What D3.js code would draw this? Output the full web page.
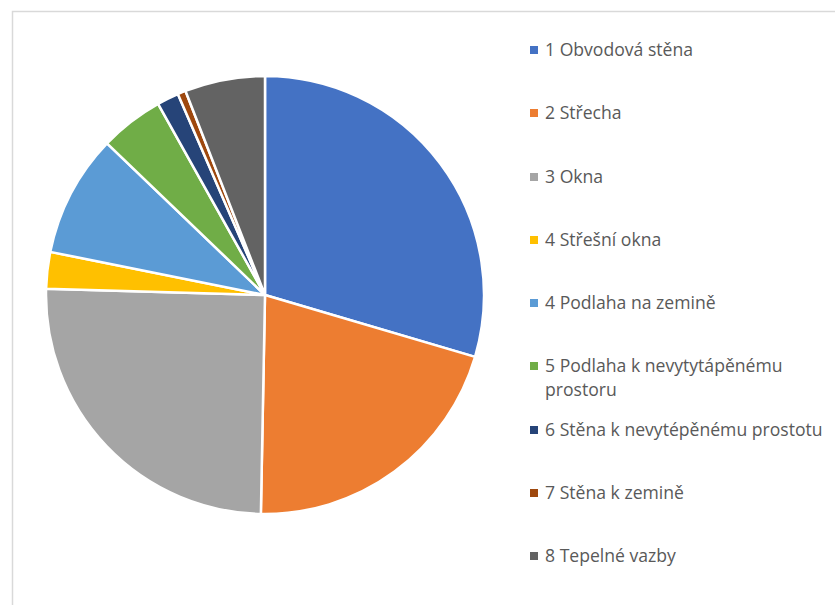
<!DOCTYPE html>
<html><head><meta charset="utf-8">
<script src="https://cdn.jsdelivr.net/npm/d3@7"></script>
<style>html,body{margin:0;padding:0;background:#fff;}svg{display:block;}</style>
</head><body>
<svg id="c" width="835" height="605"></svg>
<script>
const categories = ["1 Obvodová stěna","2 Střecha","3 Okna","4 Střešní okna","4 Podlaha na zemině","5 Podlaha k nevytytápěnému prostoru","6 Stěna k nevytépěnému prostotu","7 Stěna k zemině","8 Tepelné vazby"];
const values = [29.5, 20.7, 25.1, 2.7, 9.0, 4.7, 1.6, 0.6, 5.9];
const colors = ["#4472C4","#ED7D31","#A5A5A5","#FFC000","#5B9BD5","#70AD47","#264478","#9E480E","#636363"];
const legendLines = [["1 Obvodová stěna"],["2 Střecha"],["3 Okna"],["4 Střešní okna"],["4 Podlaha na zemině"],["5 Podlaha k nevytytápěnému","prostoru"],["6 Stěna k nevytépěnému prostotu"],["7 Stěna k zemině"],["8 Tepelné vazby"]];

const svg = d3.select("#c");
svg.append("path").attr("d","M12.5,605 V11.5 H835").attr("fill","none").attr("stroke","#d9d9d9").attr("stroke-width",1.5);

const cx = 265, cy = 295, r = 219;
const pie = d3.pie().sort(null).value(d => d);
const arc = d3.arc().innerRadius(0).outerRadius(r);
const color = d3.scaleOrdinal().domain(categories).range(colors);
svg.append("g").attr("transform",`translate(${cx},${cy})`)
  .selectAll("path").data(pie(values)).join("path")
  .attr("d", arc).attr("fill",(d,i)=>color(categories[i]))
  .attr("stroke","#fff").attr("stroke-width",2.5).attr("stroke-linejoin","round");

const lg = svg.append("g").attr("font-family","'Open Sans', 'Noto Sans', sans-serif").attr("font-size",17.6).attr("fill","#595959");
const ys = [50,113,177,240,303,366,430,493,556];
categories.forEach((c,i)=>{
  const g = lg.append("g").attr("transform",`translate(530,${ys[i]})`);
  g.append("rect").attr("x",0).attr("y",-4).attr("width",8).attr("height",8).attr("fill",color(c));
  legendLines[i].forEach((t,j)=>{
    g.append("text").attr("x",15).attr("y",j*24).attr("dy","0.35em").text(t);
  });
});
</script>
</body></html>
